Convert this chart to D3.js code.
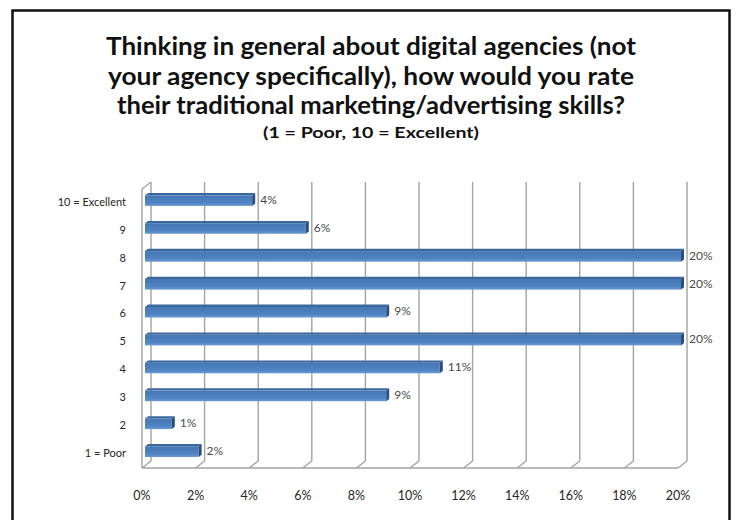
<!DOCTYPE html>
<html>
<head>
<meta charset="utf-8">
<script src="https://cdn.jsdelivr.net/npm/d3@7"></script>
<style>
  html, body { margin: 0; padding: 0; background: #ffffff; }
  svg { display: block; }
</style>
</head>
<body>
<svg id="chart" width="737" height="520"></svg>
<script>
// Ratings, top row first, and the share of respondents for each
const categories = ["10 = Excellent", "9", "8", "7", "6", "5", "4", "3", "2", "1 = Poor"];
const shares = [4, 6, 20, 20, 9, 20, 11, 9, 1, 2];
const xTicks = [0, 2, 4, 6, 8, 10, 12, 14, 16, 18, 20];
const titleLines = [
  "Thinking in general about digital agencies (not",
  "your agency specifically), how would you rate",
  "their traditional marketing/advertising skills?"
];
const subtitle = "(1 = Poor, 10 = Excellent)";

const svg = d3.select("#chart");
const font = "Lato, 'Open Sans', sans-serif";

// outer frame
svg.append("rect")
  .attr("x", 12.5).attr("y", 10.5)
  .attr("width", 717).attr("height", 540)
  .attr("fill", "#fff")
  .attr("stroke", "#111").attr("stroke-width", 2.5);

// title block
const cx = 371;
const titleWidths = [530, 526, 508];
const titleBase = [55, 84.5, 114];
titleLines.forEach((t, i) => {
  svg.append("text")
    .attr("x", cx).attr("y", titleBase[i])
    .attr("text-anchor", "middle")
    .attr("font-family", font).attr("font-weight", 700)
    .attr("font-size", 24.5).attr("fill", "#111")
    .attr("textLength", titleWidths[i])
    .attr("lengthAdjust", "spacingAndGlyphs")
    .text(t);
});
svg.append("text")
  .attr("x", cx).attr("y", 138)
  .attr("text-anchor", "middle")
  .attr("font-family", font).attr("font-weight", 700)
  .attr("font-size", 16).attr("fill", "#111")
  .attr("textLength", 216)
  .attr("lengthAdjust", "spacingAndGlyphs")
  .text(subtitle);

// 3-D box: front plane scales, back plane is shifted by (depthX, depthY)
const depthX = 9, depthY = -7;
const x = d3.scaleLinear().domain([0, 20]).range([142, 678]);
const y = d3.scaleBand().domain(categories).range([189, 468])
  .paddingInner(0.62).paddingOuter(0.31);

const floorY = 468, wallTop = 189;
const grid = svg.append("g").attr("fill", "none").attr("stroke", "#a3a3a3").attr("stroke-width", 1.4);

// back-wall gridlines with their floor edges
xTicks.forEach(t => {
  const bx = x(t) + depthX;
  grid.append("line")
    .attr("x1", bx).attr("x2", bx)
    .attr("y1", floorY + depthY).attr("y2", wallTop + depthY);
  grid.append("line")
    .attr("x1", bx).attr("y1", floorY + depthY)
    .attr("x2", x(t)).attr("y2", floorY);
});
// floor front edge
grid.append("line")
  .attr("x1", x(0)).attr("x2", x(20))
  .attr("y1", floorY).attr("y2", floorY);
// side wall edges
grid.append("path")
  .attr("d", `M${x(0)},${floorY}V${wallTop}L${x(0) + depthX},${wallTop + depthY}`);

// bars sit in the middle third of the depth
const d0 = 1 / 3, d1 = 2 / 3;
const ox = depthX * d0, oy = depthY * d0;
const ex = depthX * (d1 - d0), ey = depthY * (d1 - d0);

const defs = svg.append("defs");
const grad = defs.append("linearGradient").attr("id", "front")
  .attr("x1", 0).attr("y1", 0).attr("x2", 0).attr("y2", 1);
grad.append("stop").attr("offset", "0%").attr("stop-color", "#4577b5");
grad.append("stop").attr("offset", "70%").attr("stop-color", "#4f83c2");
grad.append("stop").attr("offset", "100%").attr("stop-color", "#6c9bd2");

const bars = svg.append("g");
categories.forEach((c, i) => {
  const v = shares[i];
  const xl = x(0) + ox, xr = x(v) + ox;
  const yt = y(c) + oy, h = y.bandwidth();
  // top face
  bars.append("path")
    .attr("d", `M${xl},${yt}L${xr},${yt}L${xr + ex},${yt + ey}L${xl + ex},${yt + ey}Z`)
    .attr("fill", "#3b679c");
  // front face
  bars.append("rect")
    .attr("x", xl).attr("y", yt)
    .attr("width", xr - xl).attr("height", h)
    .attr("fill", "url(#front)");
  // end face
  bars.append("path")
    .attr("d", `M${xr},${yt}L${xr + ex},${yt + ey}L${xr + ex},${yt + ey + h}L${xr},${yt + h}Z`)
    .attr("fill", "#2a4f7e");
  // value label
  bars.append("text")
    .attr("x", xr + ex + 5).attr("y", yt + h / 2 - 1)
    .attr("dy", "0.35em")
    .attr("font-family", font).attr("font-size", 12)
    .attr("fill", "#4a4a4a")
    .text(v + "%");
});

// category labels
categories.forEach(c => {
  svg.append("text")
    .attr("x", 126).attr("y", y(c) + y.bandwidth() / 2 - 1)
    .attr("dy", "0.35em")
    .attr("text-anchor", "end")
    .attr("font-family", font).attr("font-size", 11)
    .attr("fill", "#262626")
    .text(c);
});

// value axis labels along the floor front edge
xTicks.forEach(t => {
  svg.append("text")
    .attr("x", x(t)).attr("y", 496)
    .attr("dy", "0.35em")
    .attr("text-anchor", "middle")
    .attr("font-family", font).attr("font-size", 12.5)
    .attr("fill", "#262626")
    .text(t + "%");
});
</script>
</body>
</html>
